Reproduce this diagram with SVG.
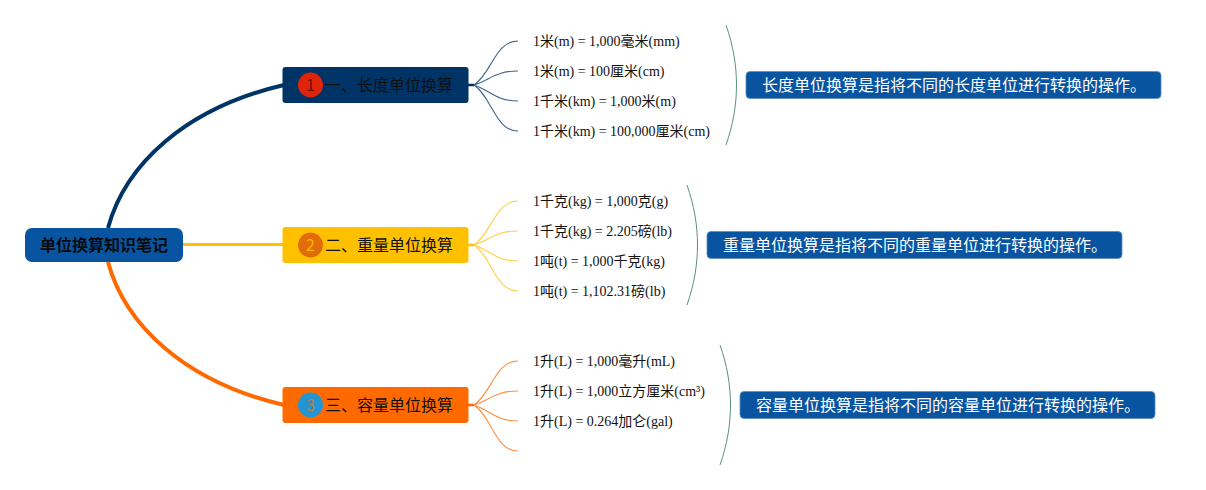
<svg xmlns="http://www.w3.org/2000/svg" width="1206" height="490" viewBox="0 0 1206 490">
<style>
text{font-family:"Liberation Serif","Noto Sans CJK SC",serif}
.h,.m,.n,.s{font-family:"Noto Sans CJK SC","Liberation Sans",sans-serif}
.l{font-size:14px;fill:#111}
.t{font-size:16px;fill:#111}
.s{font-size:16px;fill:#fff}
.n{font-size:16px;text-anchor:middle;fill:#000;fill-opacity:.55}
.m{font-size:16px;font-weight:700;fill:#0a0a0a}
.b1{stroke:#003366}.b2{stroke:#ffc000}.b3{stroke:#ff6a00}
.k{stroke-width:1.100;opacity:.75;fill:none}
.st{stroke-width:2.500;fill:none}
.a{fill:none;stroke:#5c9080;stroke-width:1}
.d{fill:#0854a0;stroke:#5b8fc0;stroke-width:.8}
</style>
<g id="connectors">
<path class="b1" d="M108 228C125 165 185 108 284 85" stroke-width="4" fill="none"/>
<path class="b2" d="M183 244.500H283" stroke-width="3" fill="none"/>
<path class="b3" d="M108 262C125 325 185 382 284 405" stroke-width="4" fill="none"/>
<path class="b1 st" d="M468 85H474"/>
<path class="b2 st" d="M468 245H474"/>
<path class="b3 st" d="M468 405H474"/>
<path class="b1 k" d="M474 85C492 73 495 41 518 41M474 85C490 80 495 71 518 71M474 85C490 90 495 101 518 101M474 85C492 97 495 131 518 131"/>
<path class="b2 k" d="M474 245C492 233 495 201 518 201M474 245C490 240 495 231 518 231M474 245C490 250 495 261 518 261M474 245C492 257 495 291 518 291"/>
<path class="b3 k" d="M474 405C492 393 495 361 518 361M474 405C490 400 495 391 518 391M474 405C490 410 495 421 518 421M474 405C492 417 495 451 518 451"/>
<path class="a" d="M726 25C740 65 740 105 726 145"/>
<path class="a" d="M687 185C701 225 701 265 687 305"/>
<path class="a" d="M720 345C734 385 734 425 720 465"/>
</g>
<g id="root"><rect x="25" y="228" width="158" height="34" rx="7" fill="#0854a0"/><text class="m" x="40" y="251">单位换算知识笔记</text></g>
<g id="topic1"><rect x="282.500" y="67" width="186" height="36" rx="3" fill="#003366"/><circle cx="310.500" cy="85" r="12.500" fill="#e0240c"/><text class="n" x="310.500" y="91">1</text><text class="t" x="325" y="91">一、长度单位换算</text></g>
<g id="topic2"><rect x="282.500" y="227" width="186" height="36" rx="3" fill="#ffc000"/><circle cx="310.500" cy="245" r="12.500" fill="#e36c0a"/><text class="n" x="310.500" y="251" style="fill:#ffc000;fill-opacity:.9">2</text><text class="t" x="325" y="251">二、重量单位换算</text></g>
<g id="topic3"><rect x="282.500" y="387" width="186" height="36" rx="3" fill="#ff6a00"/><circle cx="310.500" cy="405" r="12.500" fill="#2196d3"/><text class="n" x="310.500" y="411" style="fill:#ff6a00;fill-opacity:.75">3</text><text class="t" x="325" y="411">三、容量单位换算</text></g>
<g id="leaf1-1"><text class="l" x="533" y="46">1米(m) = 1,000毫米(mm)</text></g>
<g id="leaf1-2"><text class="l" x="533" y="76">1米(m) = 100厘米(cm)</text></g>
<g id="leaf1-3"><text class="l" x="533" y="106">1千米(km) = 1,000米(m)</text></g>
<g id="leaf1-4"><text class="l" x="533" y="136">1千米(km) = 100,000厘米(cm)</text></g>
<g id="leaf2-1"><text class="l" x="533" y="206">1千克(kg) = 1,000克(g)</text></g>
<g id="leaf2-2"><text class="l" x="533" y="236">1千克(kg) = 2.205磅(lb)</text></g>
<g id="leaf2-3"><text class="l" x="533" y="266">1吨(t) = 1,000千克(kg)</text></g>
<g id="leaf2-4"><text class="l" x="533" y="296">1吨(t) = 1,102.31磅(lb)</text></g>
<g id="leaf3-1"><text class="l" x="533" y="366">1升(L) = 1,000毫升(mL)</text></g>
<g id="leaf3-2"><text class="l" x="533" y="396">1升(L) = 1,000立方厘米(cm³)</text></g>
<g id="leaf3-3"><text class="l" x="533" y="426">1升(L) = 0.264加仑(gal)</text></g>
<g id="summary1"><rect class="d" x="746" y="71.500" width="415" height="27" rx="4"/><text class="s" x="762" y="91">长度单位换算是指将不同的长度单位进行转换的操作。</text></g>
<g id="summary2"><rect class="d" x="707" y="231.500" width="415" height="27" rx="4"/><text class="s" x="723" y="251">重量单位换算是指将不同的重量单位进行转换的操作。</text></g>
<g id="summary3"><rect class="d" x="740" y="391.500" width="415" height="27" rx="4"/><text class="s" x="756" y="411">容量单位换算是指将不同的容量单位进行转换的操作。</text></g>
</svg>
